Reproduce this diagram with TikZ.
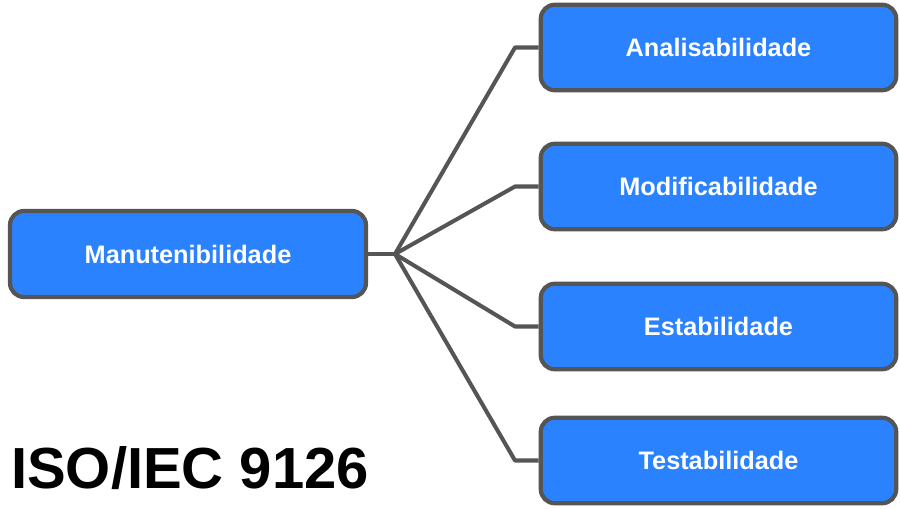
\documentclass[tikz,border=0pt]{standalone}
\usepackage{fontspec}
\setmainfont{Liberation Sans}
\usepackage{tikz}
\usetikzlibrary{positioning}
\definecolor{boxblue}{HTML}{2B82FE}
\definecolor{edge}{HTML}{555555}

\begin{document}
\begin{tikzpicture}[x=0.02cm,y=-0.02cm,
  item/.style={draw=edge,fill=boxblue,line width=2.4pt,rounded corners=0.28cm,
    minimum width=7.11cm,minimum height=1.71cm,text=white,
    font=\bfseries\fontsize{14.4}{16}\selectfont},
  link/.style={draw=edge,line width=2.3pt,line join=round}]
  \useasboundingbox (0,0) rectangle (900,508);
  \node[item,minimum width=7.12cm,minimum height=1.72cm] (manut) at (188,254) {Manutenibilidade};
  \node[item] (anal) at (718.5,47.5) {Analisabilidade};
  \node[item] (modif) at (718.5,186.5) {Modificabilidade};
  \node[item] (estab) at (718.5,326.5) {Estabilidade};
  \node[item] (testab) at (718.5,460.5) {Testabilidade};
  \coordinate (hub) at (395,254);
  \draw[link] (manut.east) -- (hub);
  \draw[link] (hub) -- (515,47.5) -- (anal.west);
  \draw[link] (hub) -- (515,186.5) -- (modif.west);
  \draw[link] (hub) -- (515,326.5) -- (estab.west);
  \draw[link] (hub) -- (515,460.5) -- (testab.west);
  \node[font=\bfseries\fontsize{33}{36}\selectfont] (title) at (190,468) {ISO/IEC 9126};
\end{tikzpicture}
\end{document}
